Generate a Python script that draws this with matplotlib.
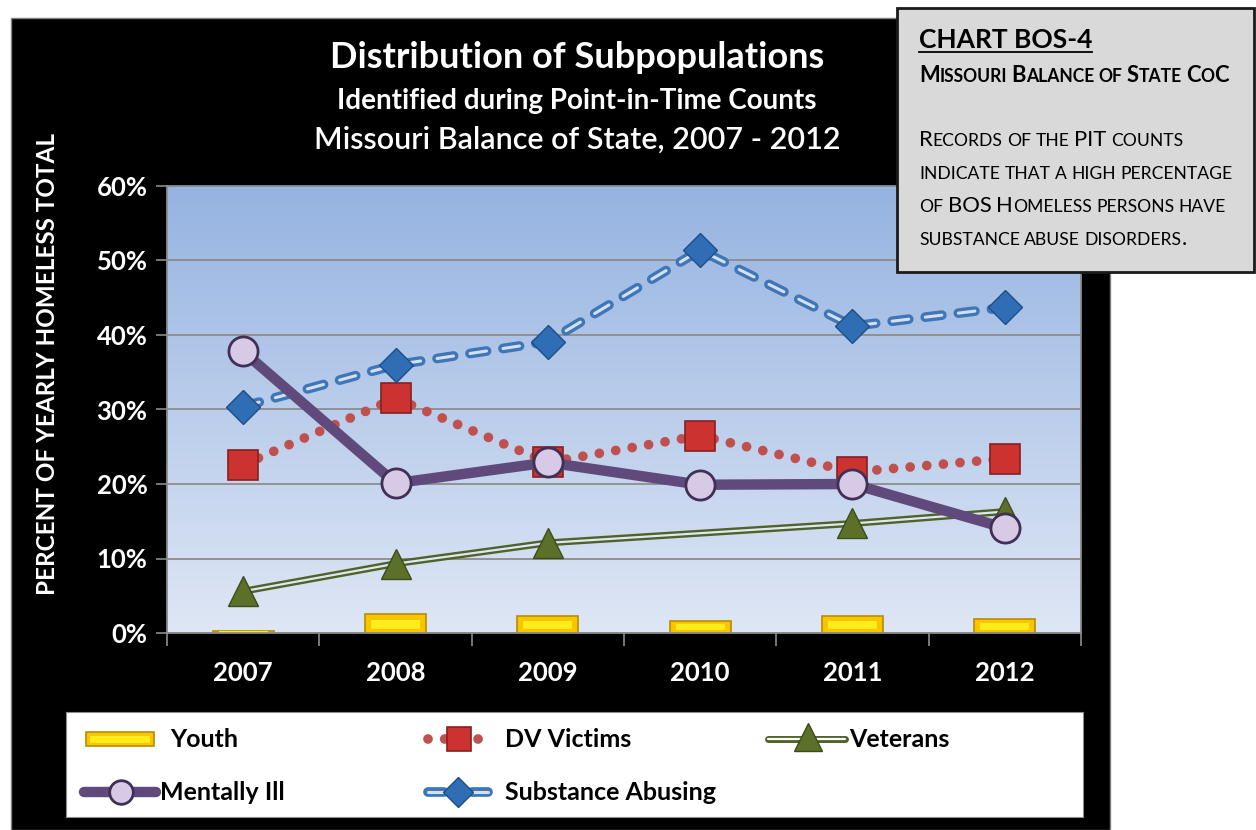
import numpy as np
import matplotlib.pyplot as plt
from matplotlib.patches import Rectangle
from matplotlib.colors import to_rgb

plt.rcParams['font.family'] = ['Lato', 'DejaVu Sans']
plt.rcParams['lines.scale_dashes'] = False

# data (percent of yearly homeless total)
years = ['2007', '2008', '2009', '2010', '2011', '2012']
youth = [0.3, 2.5, 2.3, 1.6, 2.3, 1.9]
dv_victims = [22.6, 31.5, 22.9, 26.5, 21.6, 23.4]
veterans = [5.6, 9.3, 12.1, np.nan, 14.7, 16.3]
mentally_ill = [37.8, 20.1, 22.9, 19.9, 20.0, 14.1]
substance = [30.4, 36.0, 39.1, 51.4, 41.2, 43.7]
yticks = [0, 10, 20, 30, 40, 50, 60]

W, H = 1256, 830
fig = plt.figure(figsize=(W / 100, H / 100), dpi=100)


def fx(px):
    return px / W


def fy(py):
    return 1 - py / H


# black chart panel
fig.add_artist(Rectangle((fx(11), 0), fx(1110) - fx(11), fy(18), transform=fig.transFigure,
                         facecolor='black', edgecolor='#808080', lw=1, zorder=-10))

pos = [fx(167), fy(633), fx(1081) - fx(167), fy(186) - fy(633)]

# gradient plot area
bg = fig.add_axes(pos, zorder=0)
top, bot = np.array(to_rgb('#95b3e1')), np.array(to_rgb('#dfe7f5'))
t = np.linspace(0, 1, 256)[:, None]
grad = top[None, None, :] * (1 - t[:, :, None]) + bot[None, None, :] * t[:, :, None]
bg.imshow(grad, aspect='auto', extent=[0, 1, 0, 1])
bg.axis('off')

ax = fig.add_axes(pos, zorder=1)
ax.set_facecolor('none')
x = np.arange(len(years))

# youth bars
yb = np.array(youth)
ax.bar(x, yb, width=0.4, color='#f7c600', edgecolor='#b88d00', lw=1.2, zorder=2)
ax.bar(x, yb * 0.5, bottom=yb * 0.22, width=0.32, color='#ffec1a', lw=0, zorder=2.1)

# veterans: double green line, 2010 missing
vet = np.array(veterans)
m = ~np.isnan(vet)
ax.plot(x[m], vet[m], color='#4f6228', lw=5, zorder=3)
ax.plot(x[m], vet[m], color='#dfe7f2', lw=1.6, zorder=3.1)
ax.plot(x[m], vet[m], ls='none', marker='^', ms=21, mfc='#5b7129', mec='#3c4c1a', mew=1, zorder=3.2)

# DV victims: dotted red
ax.plot(x, dv_victims, color='#c0504d', lw=7, ls=(0, (0.01, 12)), dash_capstyle='round', zorder=4)
ax.plot(x, dv_victims, ls='none', marker='s', ms=21, mfc='#cc3330', mec='#862020', mew=1.2, zorder=4.2)

# substance abusing: double dashed blue
ax.plot(x, substance, color='#3f76b8', lw=7, ls=(0, (12, 12)), dash_capstyle='round', zorder=5)
ax.plot(x, substance, color='#d4e0f0', lw=2.2, ls=(0, (12, 12)), dash_capstyle='round', zorder=5.1)
ax.plot(x, substance, ls='none', marker='D', ms=17, mfc='#2f6eb5', mec='#1f4e86', mew=1, zorder=5.2)

# mentally ill: thick purple
ax.plot(x, mentally_ill, color='#604a7b', lw=7.5, solid_joinstyle='round', zorder=6)
ax.plot(x, mentally_ill, ls='none', marker='o', ms=21, mfc='#d6cae6', mec='#3f3054', mew=2, zorder=6.2)

ax.set_xlim(-0.5, len(years) - 0.5)
ax.set_ylim(0, 60)
ax.set_yticks(yticks)
ax.set_yticklabels([f'{v}%' for v in yticks])
ax.set_xticks(x)
ax.set_xticklabels(years)
ax.set_xticks(np.arange(len(years) + 1) - 0.5, minor=True)
ax.yaxis.grid(True, color='#8c8c8c', lw=1.3)
ax.set_axisbelow(True)
for s in ax.spines.values():
    s.set_color('#8c8c8c')
    s.set_linewidth(1.3)
ax.tick_params(axis='y', colors='#8c8c8c', length=8, width=1.2, pad=6, labelcolor='white', labelsize=18.5)
ax.tick_params(axis='x', which='major', length=0, pad=20, labelcolor='white', labelsize=18.5)
ax.tick_params(axis='x', which='minor', colors='#8c8c8c', length=9, width=1.2)
for lab in ax.get_xticklabels() + ax.get_yticklabels():
    lab.set_fontweight('bold')

fig.text(fx(48), fy(364), 'PERCENT OF YEARLY HOMELESS TOTAL', rotation=90, color='white',
         fontsize=17.5, fontweight='bold', ha='center', va='center')

# titles
fig.text(fx(577), fy(58), 'Distribution of Subpopulations', color='white', fontsize=26,
         fontweight='bold', ha='center', va='center')
fig.text(fx(577), fy(101), 'Identified during Point-in-Time Counts', color='white', fontsize=20,
         fontweight='bold', ha='center', va='center')
fig.text(fx(577), fy(140), 'Missouri Balance of State, 2007 - 2012', color='white', fontsize=22,
         fontweight='semibold', ha='center', va='center')

# legend box
lax = fig.add_axes([fx(66), fy(817), fx(1083) - fx(66), fy(712) - fy(817)], zorder=2)
lax.set_xlim(66, 1083)
lax.set_ylim(817, 712)
lax.set_xticks([])
lax.set_yticks([])
for s in lax.spines.values():
    s.set_color('#8c8c8c')
r1, r2 = 739, 792
lax.add_patch(Rectangle((86, r1 - 7), 68, 14, facecolor='#f7c600', edgecolor='#b88d00', lw=1.2))
lax.add_patch(Rectangle((90, r1 - 3.5), 60, 7, facecolor='#ffec1a', lw=0))
lax.plot([428, 488], [r1, r1], color='#c0504d', lw=7, ls=(0, (0.01, 12)), dash_capstyle='round')
lax.plot([459], [r1], marker='s', ms=17, mfc='#cc3330', mec='#862020', mew=1.2)
lax.plot([768, 845], [r1, r1], color='#4f6228', lw=5, solid_capstyle='round')
lax.plot([768, 845], [r1, r1], color='white', lw=1.6, solid_capstyle='round')
lax.plot([808], [r1 - 2], marker='^', ms=20, mfc='#5b7129', mec='#3c4c1a', mew=1)
lax.plot([84, 156], [r2, r2], color='#604a7b', lw=7.5, solid_capstyle='round')
lax.plot([121], [r2], marker='o', ms=17, mfc='#d6cae6', mec='#3f3054', mew=2)
for a, b in [(428, 444), (472, 488)]:
    lax.plot([a, b], [r2, r2], color='#3f76b8', lw=7, solid_capstyle='round')
    lax.plot([a, b], [r2, r2], color='#d4e0f0', lw=2.2, solid_capstyle='round')
lax.plot([458], [r2], marker='D', ms=15, mfc='#2f6eb5', mec='#1f4e86', mew=1)
for xx, yy, txt in [(170, r1, 'Youth'), (505, r1, 'DV Victims'), (849, r1, 'Veterans'),
                    (160, r2, 'Mentally Ill'), (505, r2, 'Substance Abusing')]:
    lax.text(xx, yy, txt, fontsize=18, fontweight='bold', va='center', ha='left', color='black')

# callout box
fig.add_artist(Rectangle((fx(897), fy(272)), fx(1254) - fx(897), fy(8) - fy(272), transform=fig.transFigure,
                         facecolor='#d9d9d9', edgecolor='#1a1a1a', lw=2, zorder=20))
renderer = fig.canvas.get_renderer()


def text_w(s, size, weight):
    tt = fig.text(0, 0, s, fontsize=size, fontweight=weight)
    w = tt.get_window_extent(renderer).width
    tt.remove()
    return w


def small_caps(x0, y0, s, size, weight='normal', ratio=0.8):
    space = text_w('x x', size * ratio, weight) - text_w('xx', size * ratio, weight)
    cur = x0
    for word in s.split(' '):
        runs = []
        for ch in word:
            small = ch.islower()
            if runs and runs[-1][1] == small:
                runs[-1][0] += ch
            else:
                runs.append([ch, small])
        for txt, small in runs:
            tt = fig.text(fx(cur), fy(y0), txt.upper(), fontsize=size * ratio if small else size,
                          fontweight=weight, va='baseline', ha='left', color='black', zorder=21)
            cur += tt.get_window_extent(renderer).width
        cur += space
    return cur


hdr = fig.text(fx(919), fy(48), 'CHART BOS-4', fontsize=19, fontweight='bold', va='baseline',
               ha='left', color='black', zorder=21)
hw = hdr.get_window_extent(renderer).width
fig.add_artist(plt.Line2D([fx(919), fx(919 + hw)], [fy(52), fy(52)], transform=fig.transFigure,
                          color='black', lw=1.3, zorder=21))
small_caps(919, 82, 'Missouri Balance of State CoC', 15.8, weight='bold')
body = ['Records of the PIT counts', 'indicate that a high percentage',
        'of BOS Homeless persons have', 'substance abuse disorders.']
for i, line in enumerate(body):
    small_caps(919, 146 + 33 * i, line, 15.8)

fig.savefig('out.png', dpi=100)
